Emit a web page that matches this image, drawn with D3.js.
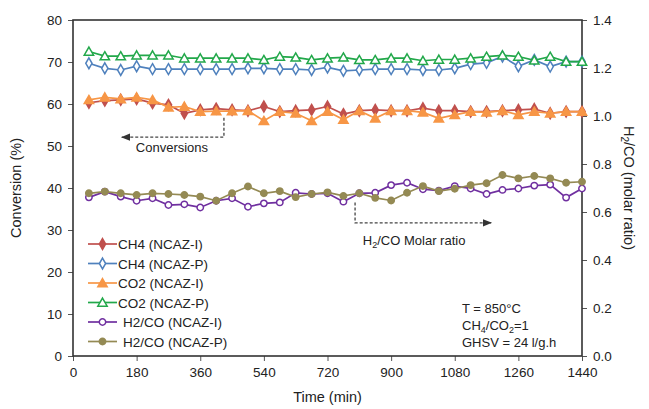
<!DOCTYPE html>
<html>
<head>
<meta charset="utf-8">
<script src="https://cdn.jsdelivr.net/npm/d3@7"></script>
<style>
  body { margin: 0; background: #fff; }
  svg text { font-family: "Liberation Sans", Arial, sans-serif; fill: #222; }
</style>
</head>
<body>
<svg id="chart" width="649" height="409"></svg>
<script>
// Conversion and H2/CO ratio over a 24 h stability test, two catalysts.

const times = [45, 90, 135, 180, 225, 270, 315, 360, 405, 450, 495, 540, 585, 630, 675, 720,
  765, 810, 855, 900, 945, 990, 1035, 1080, 1125, 1170, 1215, 1260, 1305, 1350, 1395, 1440];

const ch4I = [60.3, 60.8, 61.0, 61.2, 60.2, 59.8, 57.8, 58.6, 58.9, 58.6, 58.4, 59.4, 58.2, 58.4, 58.6, 59.4,
  57.6, 58.4, 58.6, 58.4, 58.4, 59.0, 58.4, 58.4, 58.2, 58.2, 58.4, 58.6, 58.8, 57.8, 58.2, 58.2];
const ch4P = [69.7, 68.5, 68.1, 69.0, 68.3, 68.3, 68.3, 68.3, 68.3, 68.3, 68.5, 68.5, 68.3, 68.3, 68.1, 68.7,
  67.9, 68.1, 68.3, 68.3, 68.3, 68.1, 68.1, 68.5, 69.5, 69.8, 71.3, 69.0, 70.5, 68.9, 70.1, 70.1];
const co2I = [61.0, 61.6, 61.2, 61.6, 61.0, 59.2, 59.4, 58.2, 58.3, 58.3, 58.4, 56.0, 58.2, 57.8, 56.0, 58.2,
  56.3, 58.4, 56.6, 58.4, 58.4, 58.0, 56.6, 57.4, 58.2, 58.0, 58.4, 57.4, 58.2, 57.8, 58.2, 58.2];
const co2P = [72.5, 71.4, 71.4, 71.6, 71.6, 71.6, 70.9, 70.9, 70.9, 70.9, 70.9, 70.5, 71.3, 71.1, 70.5, 70.9,
  71.1, 70.5, 70.5, 70.9, 70.9, 70.3, 70.6, 70.6, 70.9, 71.3, 71.6, 71.3, 70.4, 71.3, 70.1, 70.1];
const ratioI = [0.661, 0.685, 0.664, 0.647, 0.657, 0.629, 0.632, 0.619, 0.647, 0.657, 0.622, 0.636, 0.640, 0.680, 0.675, 0.678,
  0.643, 0.678, 0.680, 0.712, 0.722, 0.695, 0.689, 0.708, 0.698, 0.675, 0.692, 0.698, 0.710, 0.714, 0.660, 0.698];
const ratioP = [0.678, 0.685, 0.678, 0.671, 0.678, 0.675, 0.671, 0.664, 0.647, 0.678, 0.706, 0.678, 0.687, 0.662, 0.675, 0.682,
  0.667, 0.678, 0.659, 0.648, 0.680, 0.708, 0.687, 0.697, 0.712, 0.720, 0.754, 0.740, 0.750, 0.740, 0.722, 0.726];

const xTicks = [0, 180, 360, 540, 720, 900, 1080, 1260, 1440];
const leftTicks = [0, 10, 20, 30, 40, 50, 60, 70, 80];
const rightTicks = [0, 0.2, 0.4, 0.6, 0.8, 1.0, 1.2, 1.4];

const series = [
  { name: "CH4 (NCAZ-I)",   values: ch4I,   axis: "left",  color: "#c0504d", shape: "diamond",  filled: true  },
  { name: "CH4 (NCAZ-P)",   values: ch4P,   axis: "left",  color: "#4f81bd", shape: "diamond",  filled: false },
  { name: "CO2 (NCAZ-I)",   values: co2I,   axis: "left",  color: "#f79646", shape: "triangle", filled: true  },
  { name: "CO2 (NCAZ-P)",   values: co2P,   axis: "left",  color: "#22a84a", shape: "triangle", filled: false },
  { name: "H2/CO (NCAZ-I)", values: ratioI, axis: "right", color: "#7030a0", shape: "circle",   filled: false },
  { name: "H2/CO (NCAZ-P)", values: ratioP, axis: "right", color: "#948a54", shape: "circle",   filled: true  }
];

const svg = d3.select("#chart");
const margin = { top: 20, right: 67, bottom: 53, left: 73 };
const width = +svg.attr("width");
const height = +svg.attr("height");
const innerW = width - margin.left - margin.right;
const innerH = height - margin.top - margin.bottom;

const x = d3.scaleLinear().domain([0, 1440]).range([0, innerW]);
const yL = d3.scaleLinear().domain([0, 80]).range([innerH, 0]);
const yR = d3.scaleLinear().domain([0, 1.4]).range([innerH, 0]);

const g = svg.append("g").attr("transform", `translate(${margin.left},${margin.top})`);

function styleAxis(sel) {
  sel.select(".domain").remove();
  sel.selectAll(".tick line").attr("stroke", "#555").attr("stroke-width", 1);
  sel.selectAll(".tick text").attr("font-size", 13.5).attr("fill", "#222")
    .style("font-family", "'Liberation Sans', Arial, sans-serif");
}

g.append("g").attr("transform", `translate(0,${innerH})`)
  .call(d3.axisBottom(x).tickValues(xTicks).tickSize(5).tickPadding(6).tickFormat(d3.format("d")))
  .call(styleAxis);

g.append("g")
  .call(d3.axisLeft(yL).tickValues(leftTicks).tickSize(5).tickPadding(6).tickFormat(d3.format("d")))
  .call(styleAxis);

g.append("g").attr("transform", `translate(${innerW},0)`)
  .call(d3.axisRight(yR).tickValues(rightTicks).tickSize(5).tickPadding(6).tickFormat(d3.format(".1f")))
  .call(styleAxis);

// plot frame
g.append("rect")
  .attr("width", innerW).attr("height", innerH)
  .attr("fill", "none").attr("stroke", "#333").attr("stroke-width", 1.6);

function symbolFor(s) {
  if (s.shape === "diamond") return d3.symbol().type(d3.symbolDiamond).size(34)();
  if (s.shape === "triangle") return d3.symbol().type(d3.symbolTriangle).size(38)();
  return d3.symbol().type(d3.symbolCircle).size(32)();
}

series.forEach(s => {
  const yS = s.axis === "left" ? yL : yR;
  const pts = times.map((t, i) => ({ t, v: s.values[i] }));
  const line = d3.line().x(d => x(d.t)).y(d => yS(d.v));

  g.append("path")
    .datum(pts)
    .attr("d", line)
    .attr("fill", "none")
    .attr("stroke", s.color)
    .attr("stroke-width", 1.7);

  g.selectAll(null)
    .data(pts)
    .join("path")
    .attr("transform", d => `translate(${x(d.t)},${yS(d.v) + (s.shape === "triangle" ? 1 : 0)})`)
    .attr("d", symbolFor(s))
    .attr("fill", s.filled ? s.color : "#fff")
    .attr("stroke", s.color)
    .attr("stroke-width", 1.5);
});

// annotations with dashed arrows
const defs = svg.append("defs");
defs.append("marker")
  .attr("id", "arr").attr("viewBox", "0 0 10 10")
  .attr("refX", 9).attr("refY", 5)
  .attr("markerWidth", 7).attr("markerHeight", 7)
  .attr("orient", "auto-start-reverse")
  .append("path").attr("d", "M0,1 L10,5 L0,9 Z").attr("fill", "#333");

g.append("path")
  .attr("d", `M${x(427)},${yL(56.7)} V${yL(52.1)} H${x(138)}`)
  .attr("fill", "none").attr("stroke", "#444").attr("stroke-width", 1.3)
  .attr("stroke-dasharray", "3,2").attr("marker-end", "url(#arr)");

g.append("text")
  .attr("x", x(280)).attr("y", yL(48.6))
  .attr("text-anchor", "middle").attr("font-size", 13)
  .text("Conversions");

g.append("path")
  .attr("d", `M${x(798)},${yR(0.64)} V${yR(0.555)} H${x(1183)}`)
  .attr("fill", "none").attr("stroke", "#444").attr("stroke-width", 1.3)
  .attr("stroke-dasharray", "3,2").attr("marker-end", "url(#arr)");

const h2Label = g.append("text")
  .attr("x", x(820)).attr("y", yR(0.462))
  .attr("font-size", 13);
h2Label.append("tspan").text("H");
h2Label.append("tspan").attr("font-size", 9).attr("dy", 3).text("2");
h2Label.append("tspan").attr("dy", -3).text("/CO Molar ratio");

// legend
const legend = g.append("g").attr("transform", "translate(15,224)");
series.forEach((s, i) => {
  const row = legend.append("g").attr("transform", `translate(0,${i * 19.5})`);
  row.append("line").attr("x1", 0).attr("x2", 29).attr("stroke", s.color).attr("stroke-width", 1.7);
  row.append("path")
    .attr("transform", `translate(14.5,${s.shape === "triangle" ? 1 : 0})`)
    .attr("d", symbolFor(s))
    .attr("fill", s.filled ? s.color : "#fff")
    .attr("stroke", s.color).attr("stroke-width", 1.5);
  row.append("text")
    .attr("x", s.shape === "circle" ? 35 : 30).attr("y", 5)
    .attr("font-size", 13.5)
    .text(s.name);
});

// operating conditions
g.append("text").attr("font-size", 13).attr("x", 389).attr("y", 293).text("T = 850°C");
const l2 = g.append("text").attr("font-size", 13).attr("x", 389).attr("y", 310);
l2.append("tspan").text("CH");
l2.append("tspan").attr("font-size", 9).attr("dy", 3).text("4");
l2.append("tspan").attr("dy", -3).text("/CO");
l2.append("tspan").attr("font-size", 9).attr("dy", 3).text("2");
l2.append("tspan").attr("dy", -3).text("=1");
g.append("text").attr("font-size", 13).attr("x", 389).attr("y", 327).text("GHSV = 24 l/g.h");

// axis titles
svg.append("text")
  .attr("transform", `translate(21,${margin.top + innerH / 2}) rotate(-90)`)
  .attr("text-anchor", "middle").attr("font-size", 14.5)
  .text("Conversion (%)");

const rt = svg.append("text")
  .attr("transform", `translate(624,${margin.top + innerH / 2}) rotate(90)`)
  .attr("text-anchor", "middle").attr("font-size", 14.5);
rt.append("tspan").text("H");
rt.append("tspan").attr("font-size", 10).attr("dy", 3).text("2");
rt.append("tspan").attr("dy", -3).text("/CO (molar ratio)");

svg.append("text")
  .attr("x", margin.left + innerW / 2).attr("y", 402)
  .attr("text-anchor", "middle").attr("font-size", 14.5)
  .text("Time (min)");
</script>
</body>
</html>
